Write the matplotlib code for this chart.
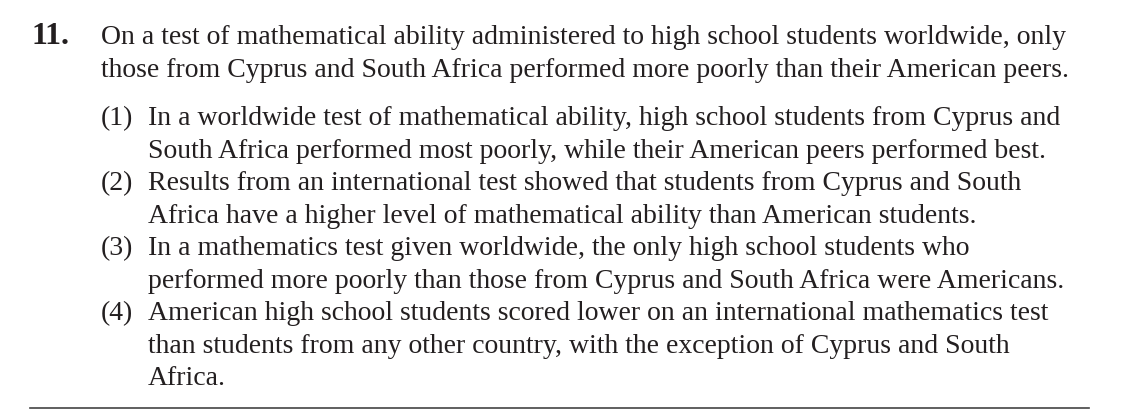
import matplotlib
matplotlib.use("Agg")
import matplotlib.pyplot as plt
from matplotlib.lines import Line2D

W, H = 1123, 419
question_number = "11."
stem_lines = [
    "On a test of mathematical ability administered to high school students worldwide, only",
    "those from Cyprus and South Africa performed more poorly than their American peers.",
]
option_labels = ["(1)", "(2)", "(3)", "(4)"]
option_lines = [
    ["In a worldwide test of mathematical ability, high school students from Cyprus and",
     "South Africa performed most poorly, while their American peers performed best."],
    ["Results from an international test showed that students from Cyprus and South",
     "Africa have a higher level of mathematical ability than American students."],
    ["In a mathematics test given worldwide, the only high school students who",
     "performed more poorly than those from Cyprus and South Africa were Americans."],
    ["American high school students scored lower on an international mathematics test",
     "than students from any other country, with the exception of Cyprus and South",
     "Africa."],
]

plt.rcParams['font.family'] = ['Liberation Serif', 'DejaVu Serif']
fig = plt.figure(figsize=(W / 100, H / 100), dpi=100)
color = '#231f20'
fs = 20.0

def put(x, y, s, **kw):
    fig.text(x / W, 1 - y / H, s, fontsize=kw.pop('fontsize', fs), color=color,
             va='baseline', ha='left', **kw)

put(31, 44, question_number, fontweight='bold', fontsize=23)
y = 44
for ln in stem_lines:
    put(101, y, ln)
    y += 32.6
y = 125
for lab, lines in zip(option_labels, option_lines):
    put(101, y, lab)
    for ln in lines:
        put(148, y, ln)
        y += 32.5

fig.add_artist(Line2D([30 / W, 1089 / W], [1 - 408 / H, 1 - 408 / H],
                      color='#444444', linewidth=1.2))
fig.savefig("out.png", dpi=100)
